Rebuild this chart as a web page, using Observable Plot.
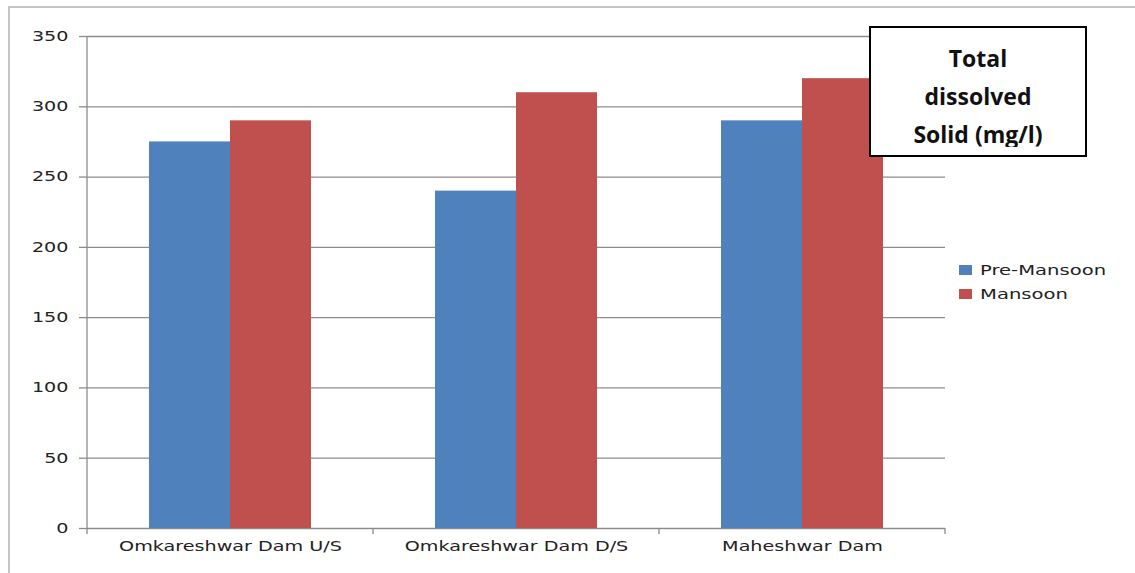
<!DOCTYPE html>
<html>
<head>
<meta charset="utf-8">
<script src="https://cdn.jsdelivr.net/npm/d3@7"></script>
<script src="https://cdn.jsdelivr.net/npm/@observablehq/plot@0.6"></script>
<style>
  html, body { margin: 0; padding: 0; background: #fff; }
  #wrap { position: relative; width: 1135px; height: 573px; overflow: hidden; background: #fff; }
  #border { position: absolute; left: 8px; top: 6px; right: 0; bottom: -2px; border-top: 2px solid #c4c4c4; border-left: 2px solid #c4c4c4; pointer-events: none; }
  #titlebox { position: absolute; left: 869px; top: 26px; width: 218px; height: 131px; box-sizing: border-box;
    border: 2px solid #000; background: #fff; overflow: hidden; }
  #titlebox .inner { padding-top: 11px; height: 108px; overflow: hidden; text-align: center;
    font-family: "Open Sans", sans-serif; font-weight: bold; font-size: 23px; line-height: 38px; color: #111; }
  #legend { position: absolute; left: 959px; top: 258px; font-family: "DejaVu Sans", sans-serif; font-size: 13.5px; color: #222; }
  #legend .row { display: flex; align-items: center; height: 24px; }
  #legend .sw { width: 13px; height: 10px; margin-right: 8px; flex: none; }
  #legend span { display: inline-block; transform: scaleX(1.45); transform-origin: left center; white-space: nowrap; }
</style>
</head>
<body>
<div id="wrap">
  <div id="chart"></div>
  <div id="border"></div>
  <div id="legend"></div>
  <div id="titlebox"><div class="inner">Total<br>dissolved<br>Solid (mg/l)</div></div>
</div>
<script>
const categories = ["Omkareshwar Dam U/S", "Omkareshwar Dam D/S", "Maheshwar Dam"];
const series = ["Pre-Mansoon", "Mansoon"];
const preMansoon = [275, 240, 290];
const mansoon = [290, 310, 320];
const yTicks = [0, 50, 100, 150, 200, 250, 300, 350];
const colors = ["#4F81BD", "#C0504D"];

const data = categories.flatMap((c, i) => [
  {category: c, series: series[0], value: preMansoon[i]},
  {category: c, series: series[1], value: mansoon[i]}
]);

const chart = Plot.plot({
  width: 1135,
  height: 573,
  marginLeft: 86,
  marginRight: 190,
  marginTop: 36,
  marginBottom: 45,
  style: {fontFamily: "'DejaVu Sans', sans-serif", fontSize: "13.5px", color: "#222", background: "transparent"},
  fx: {domain: categories, padding: 0, label: null},
  x: {domain: series, paddingInner: 0, paddingOuter: 0.744, axis: null},
  y: {domain: [0, 350], label: null},
  color: {domain: series, range: colors},
  marks: [
    Plot.gridY(yTicks, {stroke: "#8c8c8c", strokeOpacity: 1, strokeWidth: 1.3}),
    Plot.barY(data, {fx: "category", x: "series", y: "value", fill: "series"}),
    Plot.axisY(yTicks, {tickSize: 8, tickPadding: 11, stroke: "#8c8c8c", strokeWidth: 1.3, tickFormat: d => String(d), label: null}),
    Plot.axisFx({anchor: "bottom", tickSize: 0, tickPadding: 13, label: null})
  ]
});
document.getElementById("chart").appendChild(chart);

// stretch axis labels horizontally like the reference rendering
d3.select(chart).selectAll("text").each(function () {
  const t = this.getAttribute("transform");
  if (t) this.setAttribute("transform", t + " scale(1.42,1)");
});

// y-axis line and category boundary ticks from the library's scales
const fx = chart.scale("fx");
const y = chart.scale("y");
const svg = d3.select(chart);
const g = svg.append("g").attr("stroke", "#8c8c8c").attr("stroke-width", 1.3);
g.append("line")
  .attr("x1", fx.apply(categories[0])).attr("x2", fx.apply(categories[0]))
  .attr("y1", y.apply(350)).attr("y2", y.apply(0) + 6);
const bounds = categories.slice(1).map(c => fx.apply(c)).concat([fx.apply(categories[categories.length - 1]) + fx.bandwidth]);
g.selectAll("line.b").data(bounds).join("line").attr("class", "b")
  .attr("x1", d => d).attr("x2", d => d)
  .attr("y1", y.apply(0)).attr("y2", y.apply(0) + 6);

// legend from the color scale
const color = chart.scale("color");
const legend = d3.select("#legend");
color.domain.forEach(s => {
  const row = legend.append("div").attr("class", "row");
  row.append("div").attr("class", "sw").style("background", color.apply(s));
  row.append("span").text(s);
});
</script>
</body>
</html>
